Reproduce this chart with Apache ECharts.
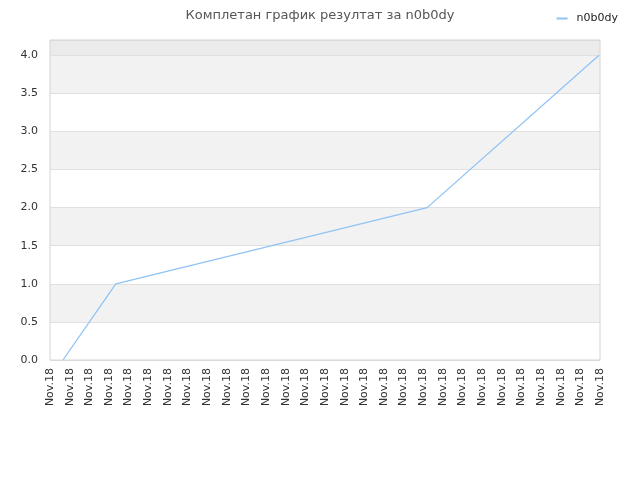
<!DOCTYPE html>
<html>
<head>
<meta charset="utf-8">
<script src="https://cdn.jsdelivr.net/npm/echarts@6/dist/echarts.min.js"></script>
<style>
  html, body { margin: 0; padding: 0; background: #fff; }
  #chart { width: 640px; height: 480px; }
</style>
</head>
<body>
<div id="chart"></div>
<script>
// x positions are in "label slots" (0..28), all labels read Nov.18
const tickLabels = Array(29).fill('Nov.18');
const pointX = [0.66, 3.35, 19.2, 27.95];
const scores = [0, 1, 2, 4];
const seriesName = 'n0b0dy';

const chart = echarts.init(document.getElementById('chart'));

const data = pointX.map((x, i) => [x, scores[i]]);

chart.setOption({
    animation: false,
    textStyle: { fontFamily: 'DejaVu Sans' },
    title: {
        text: 'Комплетан график резултат за ' + seriesName,
        left: 'center',
        top: 4,
        textStyle: { fontSize: 13, fontWeight: 'normal', color: '#555', fontFamily: 'DejaVu Sans' }
    },
    legend: {
        right: 17,
        top: 8,
        itemWidth: 11,
        itemHeight: 2,
        icon: 'rect',
        textStyle: { fontSize: 11, color: '#222', padding: [0, 0, 0, 4] },
        data: [seriesName]
    },
    grid: { left: 50, right: 40, top: 40, bottom: 120 },
    xAxis: {
        type: 'value',
        min: 0,
        max: 28,
        interval: 1,
        axisLine: { show: false },
        axisTick: { show: false },
        splitLine: { show: false },
        axisLabel: {
            rotate: 90,
            fontSize: 11,
            color: '#333',
            margin: 8,
            formatter: (v) => tickLabels[Math.round(v)] || ''
        }
    },
    yAxis: {
        type: 'value',
        min: 0,
        max: 4.2,
        interval: 0.5,
        axisLine: { show: false },
        axisTick: { show: false },
        axisLabel: {
            fontSize: 11,
            color: '#333',
            margin: 12,
            showMaxLabel: false,
            formatter: (v) => v.toFixed(1)
        },
        splitLine: { lineStyle: { color: '#e0e0e0', width: 1 } },
        splitArea: {
            show: true,
            areaStyle: {
                color: ['#ffffff', '#f2f2f2', '#ffffff', '#f2f2f2', '#ffffff',
                        '#f2f2f2', '#ffffff', '#f2f2f2', '#ebebeb']
            }
        }
    },
    graphic: [],
    series: [{
        name: seriesName,
        type: 'line',
        data: data,
        symbol: 'none',
        lineStyle: { color: '#8fc3f5', width: 1.3 },
        itemStyle: { color: '#8fc3f5' }
    }]
});

// light border around the plot area, following the grid rect
const rect = chart.getModel().getComponent('grid').coordinateSystem.getRect();
chart.setOption({
    graphic: [{
        type: 'rect',
        z: 100,
        silent: true,
        shape: { x: rect.x, y: rect.y, width: rect.width, height: rect.height },
        style: { fill: 'none', stroke: '#d4d4d4', lineWidth: 1 }
    }]
});
</script>
</body>
</html>
